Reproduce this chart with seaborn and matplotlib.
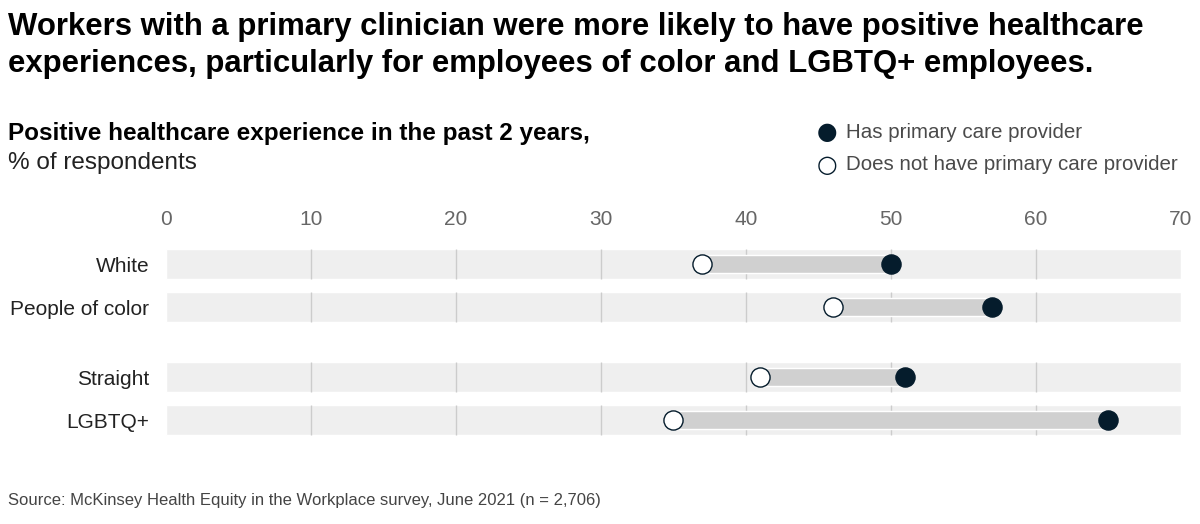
import pandas as pd
import matplotlib.pyplot as plt
import seaborn as sns

# -----------------------------
# Data
# -----------------------------

groups = ["White", "People of color", "Straight", "LGBTQ+"]
has_provider = [50, 57, 51, 65]
no_provider = [37, 46, 41, 35]
ticks = [0, 10, 20, 30, 40, 50, 60, 70]

row_pos = [0, 1, 2.63, 3.63]

df = pd.DataFrame({
    "group": groups,
    "pos": row_pos,
    "has": has_provider,
    "not": no_provider,
})

sns.set_style("white")
plt.rcParams["font.family"] = ["Liberation Sans", "DejaVu Sans"]

navy = "#051c2c"

fig = plt.figure(figsize=(12, 5.24), dpi=100)
ax = fig.add_axes([0.1383, 0.1527, 0.8458, 0.389])

# background bands
ax.barh(df["pos"], 70, left=0, height=0.7, color="#efefef", zorder=0)

# grid lines only inside bands
for p in row_pos:
    ax.vlines(ticks[1:-1], p - 0.35, p + 0.35, color="#cccccc", lw=1, zorder=1)

# range bars
ax.barh(df["pos"], df["has"] - df["not"], left=df["not"], height=0.42,
        color="#d0d0d0", zorder=2)

sns.scatterplot(data=df, x="not", y="pos", s=190, color="white",
                edgecolor=navy, linewidth=1, zorder=3, ax=ax)
sns.scatterplot(data=df, x="has", y="pos", s=190, color=navy,
                edgecolor=navy, linewidth=1, zorder=4, ax=ax)

ax.set_xlim(0, 70)
ax.set_ylim(4.186, -0.558)
ax.set_xticks(ticks)
ax.xaxis.tick_top()
ax.tick_params(axis="x", length=0, pad=8, labelsize=15, labelcolor="#666666")
ax.set_yticks(row_pos)
ax.set_yticklabels(groups)
ax.tick_params(axis="y", length=0, pad=12, labelsize=15, labelcolor="#222222")
ax.set_xlabel("")
ax.set_ylabel("")
for s in ax.spines.values():
    s.set_visible(False)

# -----------------------------
# Texts
# -----------------------------

fig.text(0.007, 0.978,
         "Workers with a primary clinician were more likely to have positive healthcare\n"
         "experiences, particularly for employees of color and LGBTQ+ employees.",
         fontsize=22.4, fontweight="bold", color="#000000", va="top", linespacing=1.32)

fig.text(0.007, 0.745, "Positive healthcare experience in the past 2 years,",
         fontsize=17.5, fontweight="bold", color="#000000", va="center")
fig.text(0.007, 0.688, "% of respondents",
         fontsize=17.5, color="#222222", va="center")

# legend
fig.text(0.6892, 0.748, "\u25cf", fontsize=17, color=navy, ha="center", va="center",
         family="DejaVu Sans")
fig.text(0.6892, 0.686, "\u25cb", fontsize=17, color=navy, ha="center", va="center",
         family="DejaVu Sans")
fig.text(0.705, 0.748, "Has primary care provider",
         fontsize=14.8, color="#4a4a4a", va="center")
fig.text(0.705, 0.686, "Does not have primary care provider",
         fontsize=14.8, color="#4a4a4a", va="center")

fig.text(0.007, 0.045,
         "Source: McKinsey Health Equity in the Workplace survey, June 2021 (n = 2,706)",
         fontsize=12, color="#444444", va="center")

plt.savefig("out.png", dpi=100)
plt.close()

print("Saved out.png")
